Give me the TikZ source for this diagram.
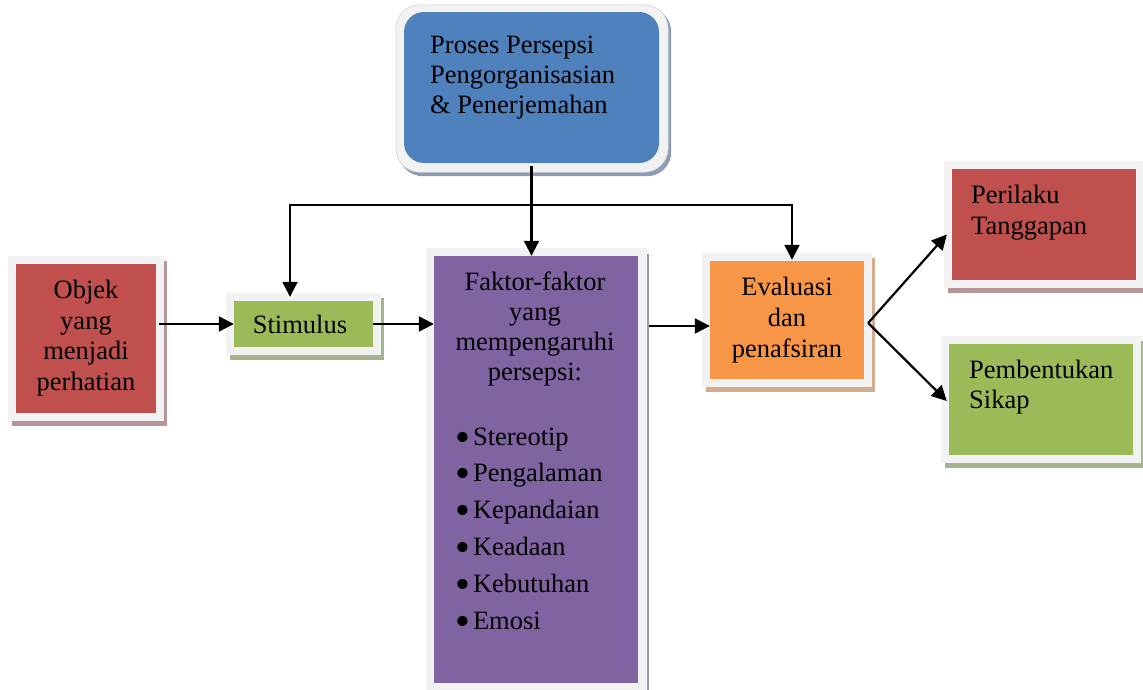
\documentclass[tikz,border=0pt]{standalone}
\usepackage{fontspec}
\setmainfont{Liberation Serif}
\usetikzlibrary{calc,arrows.meta,backgrounds}
\definecolor{cred}{HTML}{C0504D}
\definecolor{cgreen}{HTML}{9BBB59}
\definecolor{cpurple}{HTML}{8064A2}
\definecolor{corange}{HTML}{F79646}
\definecolor{cblue}{HTML}{4F81BD}
\definecolor{cframe}{HTML}{F2F2F2}
\definecolor{sred}{HTML}{B49494}
\definecolor{sgreen}{HTML}{A6B48E}
\definecolor{spurple}{HTML}{A096B4}
\definecolor{sorange}{HTML}{D4AA8A}
\definecolor{sblue}{HTML}{8C9CB8}
\newcommand\boxback[2]{%
  \fill[#2] ($(#1.north west)+(-4,-3)$) rectangle ($(#1.south east)+(11,13)$);
  \fill[cframe] ($(#1.north west)+(-8,-8)$) rectangle ($(#1.south east)+(8,8)$);
}
\newcommand\bul{\smash{\raisebox{-6pt}{\scalebox{1.6}{\textbullet}}}\hspace{3pt}}
\tikzset{
  box/.style={draw=none, inner sep=0pt, align=center},
  txt/.style={inner sep=0pt, font=\fontsize{26.5}{30}\selectfont},
  arr/.style={line width=2.2pt, -{Triangle[length=15pt,width=15pt]}},
  arrtwo/.style={line width=2.2pt, {Triangle[length=15pt,width=15pt]}-{Triangle[length=15pt,width=15pt]}},
}
\begin{document}
\begin{tikzpicture}[x=1pt,y=-1pt]
\useasboundingbox (0,0) rectangle (1143,689);

% top blue box
\node[box, fill=cblue, rounded corners=20pt, minimum width=255pt, minimum height=151pt] (blue) at (531.5,87.5) {};
\node[txt, anchor=north west, align=left] (bluet) at (430,32) {\strut Proses Persepsi\\\strut Pengorganisasian\\\strut \& Penerjemahan};

% boxes
\node[box, fill=cred, minimum width=140pt, minimum height=149pt, font=\fontsize{26.5}{30.5}\selectfont] (objek) at (86,338.5) {\strut Objek\\\strut yang\\\strut menjadi\\\strut perhatian};
\node[box, fill=cgreen, minimum width=139pt, minimum height=46pt, font=\fontsize{26.5}{30}\selectfont] (stim) at (303.5,324) {Stimulus\hspace{7pt}};
\node[box, fill=cpurple, minimum width=204pt, minimum height=427pt] (faktor) at (536,469.5) {};
\node[txt, anchor=north, align=center] (faktort) at (535,269) {\strut Faktor-faktor\\\strut yang\\\strut mempengaruhi\\\strut persepsi:};
\node[inner sep=0pt, anchor=north west, align=left, font=\fontsize{26.5}{36.8}\selectfont] (faktorl) at (455,419.2)
 {\strut\bul Stereotip\\
  \strut\bul Pengalaman\\
  \strut\bul Kepandaian\\
  \strut\bul Keadaan\\
  \strut\bul Kebutuhan\\
  \strut\bul Emosi};
\node[box, fill=corange, minimum width=154pt, minimum height=118pt, font=\fontsize{26.5}{31}\selectfont] (eval) at (787,320) {\strut Evaluasi\\\strut dan\\\strut penafsiran};
\node[box, fill=cred, minimum width=184pt, minimum height=111pt] (peri) at (1044,224.5) {};
\node[inner sep=0pt, anchor=north west, align=left, font=\fontsize{26.5}{31}\selectfont] (perit) at (971,181.6) {\strut Perilaku\\\strut Tanggapan};
\node[box, fill=cgreen, minimum width=184pt, minimum height=111pt] (pemb) at (1041,399.5) {};
\node[inner sep=0pt, anchor=north west, align=left, font=\fontsize{26.5}{30}\selectfont] (pembt) at (969,357.3) {\strut Pembentukan\\\strut Sikap};

% backgrounds: frames and shadows
\begin{scope}[on background layer]
  \fill[white] (0,0) rectangle (1143,689);
  \fill[sblue, rounded corners=24pt] ($(blue.north west)+(-5,-4)$) rectangle ($(blue.south east)+(12,13)$);
  \filldraw[fill=cframe, draw=black!18, line width=0.6pt, rounded corners=24pt] ($(blue.north west)+(-8,-7)$) rectangle ($(blue.south east)+(9,9)$);
  \boxback{objek}{sred}
  \boxback{stim}{sgreen}
  \fill[spurple] ($(faktor.north west)+(-4,-2)$) rectangle ($(faktor.south east)+(11,13)$);
  \fill[cframe] ($(faktor.north west)+(-8,-8)$) rectangle ($(faktor.south east)+(9,8)$);
  \boxback{eval}{sorange}
  \boxback{peri}{sred}
  \boxback{pemb}{sgreen}
\end{scope}

% connectors
\coordinate (jl) at (290,205);
\coordinate (jr) at (792,205);
\coordinate (fork) at ($(eval.east)+(4,3)$);
\draw[arr] ([xshift=3pt]objek.east |- stim.west) -- (stim.west);
\draw[arr] (stim.east) -- (stim.east -| faktor.west);
\draw[arr] ($(faktor.east |- eval.west)+(11,6)$) -- ($(eval.west)+(0,6)$);
\draw[arr] ([yshift=-3pt]blue.south) -- (blue.south |- faktor.north);
\draw[arrtwo] ($(jl |- stim.north)+(0,-4)$) -- (jl) -- (jr) -- ($(jr |- eval.north)+(0,-1)$);
\draw[arr] (fork) -- ($(peri.west)+(-5,10)$);
\draw[arr] (fork) -- ($(pemb.west)+(-2,1.5)$);
\end{tikzpicture}
\end{document}
